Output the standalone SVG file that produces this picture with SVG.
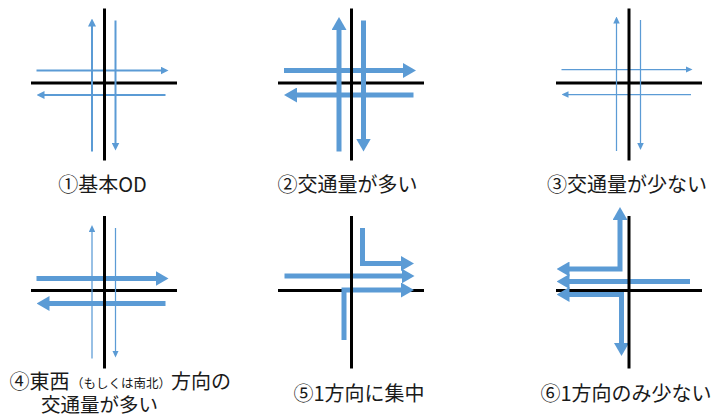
<svg xmlns="http://www.w3.org/2000/svg" width="714" height="418" viewBox="0 0 714 418">
<style>
.road{stroke:#000;stroke-width:3;fill:none}
.f{stroke:#5B9BD5;fill:none;stroke-linejoin:miter}
.thick{stroke-width:5;marker-end:url(#mThick)}
.both{marker-start:url(#mThick)}
.med{stroke-width:2;marker-end:url(#mMed)}
.thin{stroke-width:1.25;marker-end:url(#mThin)}
.lbl{font-family:"Noto Sans CJK JP","Noto Sans",sans-serif;font-size:20px;fill:#1a1a1a;text-anchor:middle}
.st{text-anchor:start}
.sm{font-size:12.5px}
</style>
<defs>
<marker id="mThick" markerUnits="userSpaceOnUse" viewBox="0 0 13 15" markerWidth="13" markerHeight="15" refX="2" refY="7.5" orient="auto-start-reverse"><path d="M0,0 L13,7.5 L0,15 z" fill="#5B9BD5"/></marker>
<marker id="mMed" markerUnits="userSpaceOnUse" viewBox="0 0 8 8" markerWidth="8" markerHeight="8" refX="1" refY="4" orient="auto-start-reverse"><path d="M0,0 L8,4 L0,8 z" fill="#5B9BD5"/></marker>
<marker id="mThin" markerUnits="userSpaceOnUse" viewBox="0 0 7 6.5" markerWidth="7" markerHeight="6.5" refX="1" refY="3.25" orient="auto-start-reverse"><path d="M0,0 L7,3.25 L0,6.5 z" fill="#5B9BD5"/></marker>
</defs>

<g id="p1">
<line class="road" x1="31" y1="83" x2="177" y2="83"/>
<g class="flows">
<line class="f med" x1="92" y1="151.5" x2="92" y2="25.5"/>
<line class="f med" x1="115.5" y1="20.5" x2="115.5" y2="143.5"/>
<line class="f med" x1="36.5" y1="70.5" x2="161.5" y2="70.5"/>
<line class="f med" x1="165.5" y1="95" x2="43.5" y2="95"/>
</g>
<line class="road" x1="104.5" y1="8.5" x2="104.5" y2="160.5"/>
<text class="lbl" x="102.5" y="192">①基本OD</text>
</g>

<g id="p2">
<line class="road" x1="278" y1="83" x2="424" y2="83"/>
<g class="flows">
<line class="f thick" x1="339" y1="151.5" x2="339" y2="28"/>
<line class="f thick" x1="363.5" y1="20.5" x2="363.5" y2="140.5"/>
<line class="f thick" x1="284" y1="70.5" x2="405" y2="70.5"/>
<line class="f thick" x1="413.5" y1="95" x2="295" y2="95"/>
</g>
<line class="road" x1="351.5" y1="8.5" x2="351.5" y2="160.5"/>
<text class="lbl" x="347.5" y="192">②交通量が多い</text>
</g>

<g id="p3">
<line class="road" x1="556" y1="83" x2="702" y2="83"/>
<g class="flows">
<line class="f thin" x1="616.5" y1="151" x2="616.5" y2="22.5"/>
<line class="f thin" x1="640.5" y1="20" x2="640.5" y2="144"/>
<line class="f thin" x1="561.5" y1="69.5" x2="686.5" y2="69.5"/>
<line class="f thin" x1="691" y1="94.5" x2="567.5" y2="94.5"/>
</g>
<line class="road" x1="629" y1="8.5" x2="629" y2="160.5"/>
<text class="lbl" x="627" y="192">③交通量が少ない</text>
</g>

<g id="p4">
<line class="road" x1="31" y1="290.5" x2="177" y2="290.5"/>
<g class="flows">
<line class="f thin" x1="92" y1="358.5" x2="92" y2="231"/>
<line class="f thin" x1="115.5" y1="228" x2="115.5" y2="351.5"/>
<line class="f thick" x1="36.5" y1="278.5" x2="157.5" y2="278.5"/>
<line class="f thick" x1="165.5" y1="303.5" x2="47.5" y2="303.5"/>
</g>
<line class="road" x1="104.5" y1="216" x2="104.5" y2="368.5"/>
<text class="lbl st" x="9.5" y="389">④東西</text>
<text class="lbl st sm" x="71" y="388">（もしくは南北）</text>
<text class="lbl st" x="171" y="389">方向の</text>
<text class="lbl" x="99.5" y="411.5" style="font-size:19.5px">交通量が多い</text>
</g>

<g id="p5">
<line class="road" x1="278" y1="290.5" x2="424" y2="290.5"/>
<g class="flows">
<path class="f thick" d="M362.5,228 V263.5 H403"/>
<path class="f thick" d="M284.5,276 H403.5"/>
<path class="f thick" d="M344,340 V290 H403"/>
</g>
<line class="road" x1="351.5" y1="216" x2="351.5" y2="368.5"/>
<text class="lbl" x="359" y="401">⑤1方向に集中</text>
</g>

<g id="p6">
<line class="road" x1="556" y1="290.5" x2="702" y2="290.5"/>
<g class="flows">
<path class="f thick both" d="M567.5,269 H620 V218"/>
<path class="f thick" d="M690,281.5 H567.5"/>
<path class="f thick both" d="M567.5,294.5 H621.5 V345"/>
</g>
<line class="road" x1="629" y1="216" x2="629" y2="368.5"/>
<text class="lbl" x="626" y="401">⑥1方向のみ少ない</text>
</g>
</svg>
